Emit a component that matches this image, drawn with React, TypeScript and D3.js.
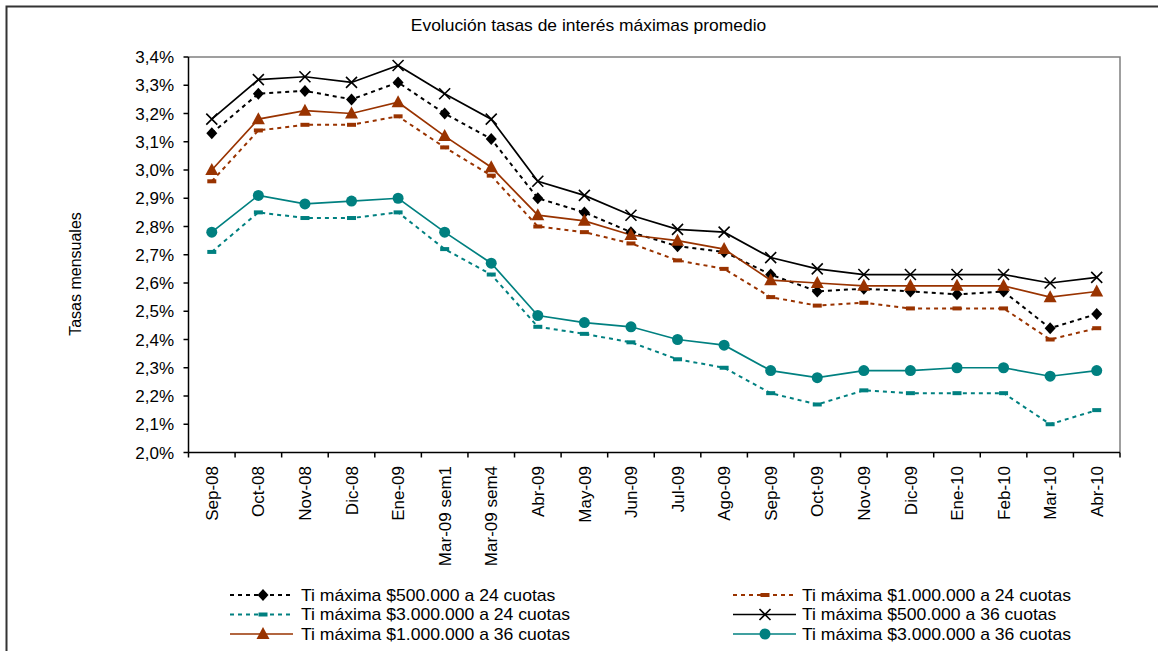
import React from "react";
import * as d3 from "d3";

const categories = ["Sep-08","Oct-08","Nov-08","Dic-08","Ene-09","Mar-09 sem1","Mar-09 sem4","Abr-09","May-09","Jun-09","Jul-09","Ago-09","Sep-09","Oct-09","Nov-09","Dic-09","Ene-10","Feb-10","Mar-10","Abr-10"];

const s500_24 = [3.13,3.27,3.28,3.25,3.31,3.20,3.11,2.90,2.85,2.78,2.73,2.71,2.63,2.57,2.58,2.57,2.56,2.57,2.44,2.49];
const s1000_24 = [2.96,3.14,3.16,3.16,3.19,3.08,2.98,2.80,2.78,2.74,2.68,2.65,2.55,2.52,2.53,2.51,2.51,2.51,2.40,2.44];
const s3000_24 = [2.71,2.85,2.83,2.83,2.85,2.72,2.63,2.445,2.42,2.39,2.33,2.30,2.21,2.17,2.22,2.21,2.21,2.21,2.10,2.15];
const s500_36 = [3.18,3.32,3.33,3.31,3.37,3.27,3.18,2.96,2.91,2.84,2.79,2.78,2.69,2.65,2.63,2.63,2.63,2.63,2.60,2.62];
const s1000_36 = [3.00,3.18,3.21,3.20,3.24,3.12,3.01,2.84,2.82,2.77,2.75,2.72,2.61,2.60,2.59,2.59,2.59,2.59,2.55,2.57];
const s3000_36 = [2.78,2.91,2.88,2.89,2.90,2.78,2.67,2.485,2.46,2.445,2.40,2.38,2.29,2.265,2.29,2.29,2.30,2.30,2.27,2.29];

const yTicks = [2.0,2.1,2.2,2.3,2.4,2.5,2.6,2.7,2.8,2.9,3.0,3.1,3.2,3.3,3.4];

const title = "Evolución tasas de interés máximas promedio";
const yTitle = "Tasas mensuales";

type Marker = "diamond" | "dash" | "x" | "triangle" | "circle";
const series: { name: string; values: number[]; color: string; dashed: boolean; marker: Marker }[] = [
  { name: "Ti máxima $500.000 a 24 cuotas", values: s500_24, color: "#000000", dashed: true, marker: "diamond" },
  { name: "Ti máxima $1.000.000 a 24 cuotas", values: s1000_24, color: "#993300", dashed: true, marker: "dash" },
  { name: "Ti máxima $3.000.000 a 24 cuotas", values: s3000_24, color: "#008080", dashed: true, marker: "dash" },
  { name: "Ti máxima $500.000 a 36 cuotas", values: s500_36, color: "#000000", dashed: false, marker: "x" },
  { name: "Ti máxima $1.000.000 a 36 cuotas", values: s1000_36, color: "#993300", dashed: false, marker: "triangle" },
  { name: "Ti máxima $3.000.000 a 36 cuotas", values: s3000_36, color: "#008080", dashed: false, marker: "circle" },
];

const FONT = "'Liberation Sans', Arial, sans-serif";

function MarkerShape({ type, x, y, color }: { type: Marker; x: number; y: number; color: string }) {
  switch (type) {
    case "diamond":
      return <path d={`M${x},${y - 6}L${x + 5.5},${y}L${x},${y + 6}L${x - 5.5},${y}Z`} fill={color} />;
    case "dash":
      return <rect x={x - 4.5} y={y - 2} width={9} height={4} fill={color} />;
    case "x":
      return <path d={`M${x - 5.5},${y - 5.5}L${x + 5.5},${y + 5.5}M${x - 5.5},${y + 5.5}L${x + 5.5},${y - 5.5}`} stroke={color} strokeWidth={1.6} />;
    case "triangle":
      return <path d={`M${x},${y - 7}L${x + 6.5},${y + 5}L${x - 6.5},${y + 5}Z`} fill={color} />;
    case "circle":
      return <circle cx={x} cy={y} r={5.5} fill={color} />;
  }
}

export default function App() {
  const W = 1158, H = 651;
  const left = 188.5, right = 1120, top = 57, bottom = 452.5;

  const x = d3.scaleBand<string>().domain(categories).range([left, right]);
  const y = d3.scaleLinear().domain([2.0, 3.4]).range([bottom, top]);
  const cx = (c: string) => (x(c) ?? 0) + x.bandwidth() / 2;

  const line = (vals: number[]) =>
    d3.line<number>().x((_, i) => cx(categories[i])).y((v) => y(v))(vals) ?? "";

  const fmt = (v: number) => v.toFixed(1).replace(".", ",") + "%";

  const boundaries = d3.range(categories.length + 1).map((i) => left + i * x.step());

  const legendRows = [595, 614.5, 634];
  const legendCols = [{ l0: 230, l1: 293, m: 263, t: 301 }, { l0: 733, l1: 796, m: 765, t: 802 }];
  const legendPos = [
    [0, 0], [1, 0], [0, 1], [1, 1], [0, 2], [1, 2],
  ];

  return (
    <svg width={W} height={H} style={{ position: "absolute", left: 0, top: 0, background: "#fff" }} fontFamily={FONT}>
      <rect x={0} y={0} width={W} height={H} fill="#fff" />
      {/* outer frame */}
      <path d={`M6.5,${H + 5}V6.5H${W + 5}`} fill="none" stroke="#333" strokeWidth={2} />

      <text transform="translate(588.5,31) scale(1.09,1)" textAnchor="middle" fontSize={16} fill="#000">{title}</text>

      <text transform={`translate(81,274) rotate(-90)`} textAnchor="middle" fontSize={16} fill="#000">{yTitle}</text>

      {/* plot border top/right */}
      <path d={`M${left},${top}H${right}V${bottom}`} fill="none" stroke="#808080" strokeWidth={1.5} />

      {/* y axis */}
      <line x1={left} x2={left} y1={top} y2={bottom} stroke="#000" strokeWidth={1.5} />
      {yTicks.map((t) => (
        <g key={t}>
          <line x1={left - 5} x2={left} y1={y(t)} y2={y(t)} stroke="#000" strokeWidth={1.5} />
          <text x={174} y={y(t)} dy="0.36em" textAnchor="end" fontSize={17} fill="#000">{fmt(t)}</text>
        </g>
      ))}

      {/* x axis */}
      <line x1={left} x2={right} y1={bottom} y2={bottom} stroke="#000" strokeWidth={1.5} />
      {boundaries.map((b, i) => (
        <line key={i} x1={b} x2={b} y1={bottom} y2={bottom + 5} stroke="#000" strokeWidth={1.5} />
      ))}
      {categories.map((c) => (
        <text key={c} transform={`translate(${cx(c)},466) rotate(-90)`} textAnchor="end" dy="0.36em" fontSize={17} fill="#000">{c}</text>
      ))}

      {/* series lines */}
      {series.map((s) => (
        <path key={s.name} d={line(s.values)} fill="none" stroke={s.color} strokeWidth={s.dashed ? 2 : 1.7} strokeDasharray={s.dashed ? "4,4" : undefined} />
      ))}
      {series.map((s) =>
        s.values.map((v, i) => (
          <MarkerShape key={s.name + i} type={s.marker} x={cx(categories[i])} y={y(v)} color={s.color} />
        ))
      )}

      {/* legend */}
      {series.map((s, k) => {
        const [ci, ri] = legendPos[k];
        const col = legendCols[ci];
        const ry = legendRows[ri];
        return (
          <g key={s.name}>
            <line x1={col.l0} x2={col.l1} y1={ry} y2={ry} stroke={s.color} strokeWidth={s.dashed ? 2 : 1.7} strokeDasharray={s.dashed ? "4,4" : undefined} />
            <MarkerShape type={s.marker} x={col.m} y={ry} color={s.color} />
            <text transform={`translate(${col.t},${ry}) scale(1.1,1)`} dy="0.36em" fontSize={16} fill="#000">{s.name}</text>
          </g>
        );
      })}
    </svg>
  );
}
